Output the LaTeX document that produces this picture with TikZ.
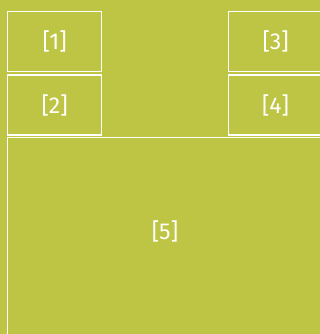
\documentclass[tikz,border=0pt]{standalone}
\usepackage{fontspec}
\setmainfont{Fira Sans}
\usepackage{xcolor}
\usepackage{tikz}
\usetikzlibrary{positioning}
\definecolor{olivebg}{HTML}{BEC443}

\tikzset{
  panel/.style={draw=white, line width=1.3pt, inner sep=0pt, text=white,
                font=\fontsize{23}{27}\selectfont, anchor=north west},
  tag/.style={text=white, font=\fontsize{23}{27}\selectfont, inner sep=0pt}
}

\begin{document}
\begin{tikzpicture}[x=1pt, y=1pt]
    \fill[olivebg] (0,0) rectangle (320,334);
    \useasboundingbox (0,0) rectangle (320,334);
    \clip (0,0) rectangle (320,334);
    % small boxes
    \node[panel, minimum width=94pt, minimum height=60pt] (p1) at (7,323) {[1]};
    \node[panel, minimum width=94pt, minimum height=60pt] (p2) at (7,259.5) {[2]};
    \node[panel, minimum width=94pt, minimum height=60pt] (p3) at (228,323) {[3]};
    \node[panel, minimum width=94pt, minimum height=60pt] (p4) at (228,259.5) {[4]};
    % big box
    \node[panel, minimum width=320pt, minimum height=205pt] (p5) at (7,197) {};
    \node[tag] (t5) at (165,103) {[5]};
\end{tikzpicture}
\end{document}
